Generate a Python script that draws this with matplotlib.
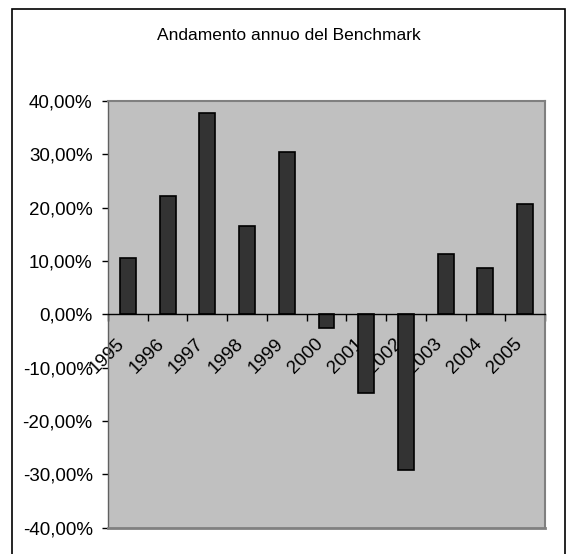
import matplotlib.pyplot as plt
import matplotlib.patches as patches
from matplotlib.ticker import FuncFormatter, FixedLocator
import numpy as np

# Dati
anni = ['1995', '1996', '1997', '1998', '1999', '2000',
        '2001', '2002', '2003', '2004', '2005']
rendimenti = [0.105, 0.222, 0.377, 0.166, 0.305, -0.026,
              -0.148, -0.291, 0.114, 0.087, 0.207]
titolo = 'Andamento annuo del Benchmark'

plt.rcParams['font.family'] = ['Liberation Sans', 'DejaVu Sans']

W, H = 567, 554
fig = plt.figure(figsize=(W / 100, H / 100), dpi=100)

# cornice esterna del grafico
fig.patches.append(patches.Rectangle((12 / W, -0.02), (565 - 12) / W, 1 - 9 / H + 0.02,
                                     transform=fig.transFigure, fill=False,
                                     edgecolor='black', linewidth=1.2))

ax = fig.add_axes([108 / W, 1 - 527.7 / H, (545 - 108) / W, (527.7 - 101) / H])
ax.set_facecolor('#C0C0C0')

x = np.arange(len(anni))
ax.bar(x, rendimenti, width=0.4, color='#333333', edgecolor='black', linewidth=1.2, zorder=3)


def fmt_perc(v, p):
    v = round(v * 100, 2) + 0.0
    if v == 0:
        v = 0.0
    return f'{v:.2f}%'.replace('.', ',')


ax.set_xlim(-0.5, len(anni) - 0.5)
ax.set_ylim(-0.4, 0.4)
ax.set_yticks(np.arange(-0.4, 0.41, 0.1))
ax.yaxis.set_major_formatter(FuncFormatter(fmt_perc))
ax.tick_params(axis='y', length=4, width=1, labelsize=13.5, pad=7, color='black')

# asse x sullo zero, tacche ai bordi delle categorie
ax.spines['bottom'].set_position(('data', 0))
ax.spines['bottom'].set_color('black')
ax.spines['bottom'].set_linewidth(1)
ax.spines['bottom'].set_zorder(4)
ax.xaxis.set_major_locator(FixedLocator(np.arange(-0.5, len(anni), 1.0)))
ax.xaxis.set_major_formatter(FuncFormatter(lambda v, p: ''))
ax.set_xticks(x, anni, minor=True)
ax.tick_params(axis='x', which='major', length=5, width=1, direction='out')
ax.tick_params(axis='x', which='minor', length=0, labelsize=13.5, pad=15)
for lbl in ax.get_xticklabels(minor=True):
    lbl.set_rotation(45)
    lbl.set_ha('right')
    lbl.set_va('top')

for s in ['top', 'right']:
    ax.spines[s].set_color('#808080')
    ax.spines[s].set_linewidth(1.5)
ax.spines['left'].set_color('#606060')
ax.spines['left'].set_linewidth(1)
ax.axhline(-0.4, color='#808080', linewidth=2, clip_on=False, zorder=4)

fig.text(288.5 / W, 1 - 36 / H, titolo, ha='center', va='center', fontsize=12.5)

fig.savefig('out.png', dpi=100)
